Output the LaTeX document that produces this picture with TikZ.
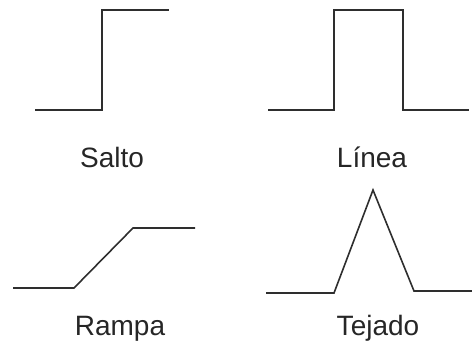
\documentclass[tikz,border=0pt]{standalone}
\usepackage{fontspec}
\setmainfont{Liberation Sans}
\begin{document}
\begin{tikzpicture}[x=1pt,y=-1pt,
  signal/.style={line width=1.6pt,draw=black!82,line join=miter},
  caption/.style={anchor=base,inner sep=0pt,text=black!85,font=\fontsize{28}{34}\selectfont}]
\useasboundingbox (0,0) rectangle (472,341);
% step
\coordinate (s1) at (35,110);
\coordinate (s2) at (102,110);
\coordinate (s3) at (102,10);
\coordinate (s4) at (169,10);
\draw[signal] (s1) -- (s2) -- (s3) -- (s4);
\node[caption] (salto) at (112,167) {Salto};
% pulse
\coordinate (l1) at (268,110);
\coordinate (l2) at (334,110);
\coordinate (l3) at (334,10);
\coordinate (l4) at (403,10);
\coordinate (l5) at (403,110);
\coordinate (l6) at (469,110);
\draw[signal] (l1) -- (l2) -- (l3) -- (l4) -- (l5) -- (l6);
\node[caption] (linea) at (372,167) {Línea};
% ramp
\coordinate (r1) at (13,288);
\coordinate (r2) at (74,288);
\coordinate (r3) at (133,228);
\coordinate (r4) at (195,228);
\draw[signal] (r1) -- (r2) -- (r3) -- (r4);
\node[caption] (rampa) at (120,335) {Rampa};
% roof
\coordinate (t1) at (266,293);
\coordinate (t2) at (334,293);
\coordinate (t3) at (373,190);
\coordinate (t4) at (414,291);
\coordinate (t5) at (472,291);
\draw[signal] (t1) -- (t2) -- (t3) -- (t4) -- (t5);
\node[caption] (tejado) at (378,335) {Tejado};
\end{tikzpicture}
\end{document}
